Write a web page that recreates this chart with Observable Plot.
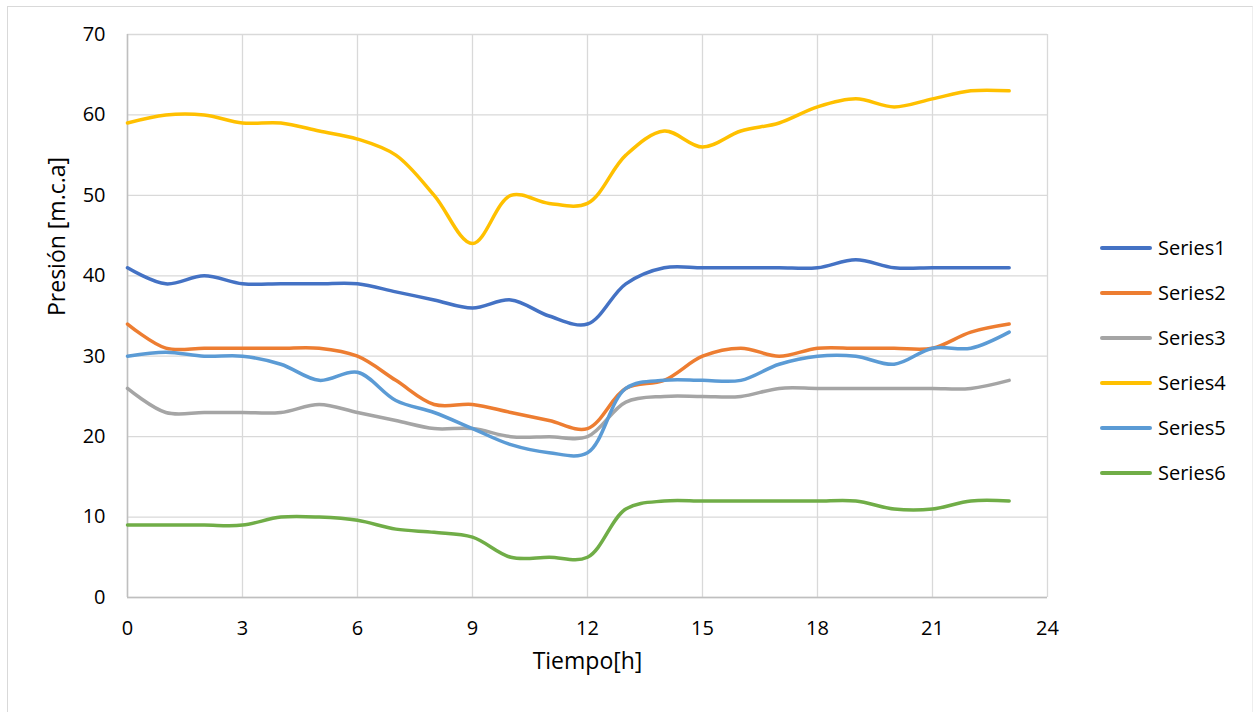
<!DOCTYPE html>
<html>
<head>
<meta charset="utf-8">
<script src="https://cdn.jsdelivr.net/npm/d3@7"></script>
<script src="https://cdn.jsdelivr.net/npm/@observablehq/plot@0.6"></script>
<style>
  html, body { margin: 0; padding: 0; background: #fff; }
  #wrap { position: relative; width: 1254px; height: 712px; overflow: hidden; font-family: "Open Sans", sans-serif; }
  #frame { position: absolute; left: 7px; top: 6px; width: 1244px; height: 720px;
           border-left: 1.5px solid #d9d9d9; border-top: 1.5px solid #d9d9d9; border-right: 1px solid #eeeeee; }
  #chart { position: absolute; left: 0; top: 0; }
  .legend { position: absolute; left: 1100px; top: 0; }
  .item { position: absolute; left: 0; width: 160px; height: 30px; }
  .swatch { position: absolute; left: 0; width: 52px; height: 4px; border-radius: 2px; top: 13px; }
  .lbl { position: absolute; left: 58px; top: 0; font-size: 20px; line-height: 30px; color: #000; }
</style>
</head>
<body>
<div id="wrap">
  <div id="frame"></div>
  <div id="chart"></div>
  <div class="legend" id="legend"></div>
</div>
<script>
// ---- data ----
const hours = [0,1,2,3,4,5,6,7,8,9,10,11,12,13,14,15,16,17,18,19,20,21,22,23];
const seriesNames = ["Series1","Series2","Series3","Series4","Series5","Series6"];
const seriesColors = ["#4472C4","#ED7D31","#A5A5A5","#FFC000","#5B9BD5","#70AD47"];
const series1 = [41,39,40,39,39,39,39,38,37,36,37,35,34,39,41,41,41,41,41,42,41,41,41,41];
const series2 = [34,31,31,31,31,31,30,27,24,24,23,22,21,26,27,30,31,30,31,31,31,31,33,34];
const series3 = [26,23,23,23,23,24,23,22,21,21,20,20,20,24.3,25,25,25,26,26,26,26,26,26,27];
const series4 = [59,60,60,59,59,58,57,55,50,44,50,49,49,55,58,56,58,59,61,62,61,62,63,63];
const series5 = [30,30.5,30,30,29,27,28,24.5,23,21,19,18,18,26,27,27,27,29,30,30,29,31,31,33];
const series6 = [9,9,9,9,10,10,9.6,8.5,8.1,7.5,5,5,5,11,12,12,12,12,12,12,11,11,12,12];
const xTicks = [0,3,6,9,12,15,18,21,24];
const yTicks = [0,10,20,30,40,50,60,70];
const xTitle = "Tiempo[h]";
const yTitle = "Presión [m.c.a]";

const allSeries = [series1, series2, series3, series4, series5, series6];
const data = [];
allSeries.forEach((vals, i) => {
  vals.forEach((v, j) => data.push({series: seriesNames[i], hour: hours[j], value: v}));
});

const gridStyle = {stroke: "#d9d9d9", strokeOpacity: 1, strokeWidth: 1.3};

const chart = Plot.plot({
  width: 1254,
  height: 712,
  marginLeft: 127,
  marginRight: 207,
  marginTop: 34,
  marginBottom: 115,
  style: {fontFamily: "Open Sans", fontSize: "20px", color: "#000", background: "transparent", overflow: "visible"},
  x: {domain: [0, 24]},
  y: {domain: [0, 70]},
  color: {domain: seriesNames, range: seriesColors},
  marks: [
    Plot.gridX(xTicks, gridStyle),
    Plot.gridY(yTicks, gridStyle),
    Plot.ruleX([0], {stroke: "#bfbfbf", strokeWidth: 1.5}),
    Plot.ruleY([0], {stroke: "#bfbfbf", strokeWidth: 1.5}),
    Plot.axisX(xTicks, {tickSize: 0, tickPadding: 23, label: null, fontSize: 20, fill: "#000"}),
    Plot.axisY(yTicks, {tickSize: 0, tickPadding: 22, label: null, fontSize: 20, fill: "#000"}),
    Plot.text([xTitle], {frameAnchor: "bottom", dy: 71, fontSize: 23, fill: "#000"}),
    Plot.text([yTitle], {frameAnchor: "left", dx: -70, rotate: -90, fontSize: 23, fill: "#000"}),
    Plot.line(data, {x: "hour", y: "value", z: "series", stroke: "series", strokeWidth: 3.5,
                     curve: "catmull-rom", strokeLinecap: "round", strokeLinejoin: "round"})
  ]
});
document.getElementById("chart").appendChild(chart);

// ---- legend ----
const legend = document.getElementById("legend");
const legendTop = 233;
const legendStep = 45;
seriesNames.forEach((name, i) => {
  const item = document.createElement("div");
  item.className = "item";
  item.style.top = (legendTop + i * legendStep) + "px";
  const sw = document.createElement("div");
  sw.className = "swatch";
  sw.style.background = seriesColors[i];
  const lb = document.createElement("div");
  lb.className = "lbl";
  lb.textContent = name;
  item.appendChild(sw);
  item.appendChild(lb);
  legend.appendChild(item);
});
</script>
</body>
</html>
